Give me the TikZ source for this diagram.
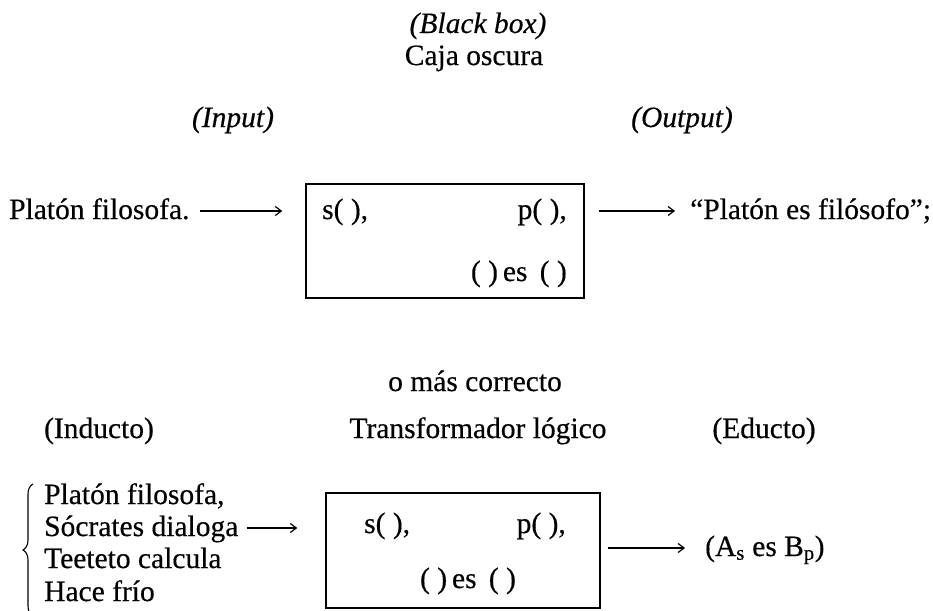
\documentclass[tikz,border=0pt]{standalone}
\usepackage{fontspec}
\setmainfont{Liberation Serif}[FakeBold=0.4]
\usetikzlibrary{decorations.pathreplacing,arrows.meta}
\begin{document}
\begin{tikzpicture}[x=1pt,y=-1pt,
  txt/.style={inner sep=0pt, font=\fontsize{29.5}{34}\selectfont},
  bx/.style={draw, line width=1.4pt, inner sep=0pt},
  arr/.style={line width=1.2pt, -{Straight Barb[length=6pt,width=9pt]}}]
\useasboundingbox (0,0) rectangle (933,610);

% --- top part ---
\node[txt, anchor=base] (bb) at (478,33) {\itshape (Black box)};
\node[txt, anchor=base] (co) at (474,65) {Caja oscura};
\node[txt, anchor=base] (inp) at (233,127) {\itshape (Input)};
\node[txt, anchor=base] (outp) at (682,127) {\itshape (Output)};

\node[bx, minimum width=278pt, minimum height=114pt] (box1) at (445,241) {};
\node[txt, anchor=base west] (s1) at (322,219) {s( ),};
\node[txt, anchor=base east] (p1) at (567,219) {p( ),};
\node[txt, anchor=base east] (e1) at (567,281) {( )\,es\, ( )};

\node[txt, anchor=base west] (in1) at (9,219) {Platón filosofa.};
\node[txt, anchor=base west] (out1) at (690,219) {“Platón es filósofo”;};
\coordinate (a1s) at ([shift={(10,-8)}]in1.base east);
\coordinate (a2s) at ([shift={(14,-8)}]box1.east |- in1.base);
\draw[arr, shorten >=23pt] (a1s) -- (a1s -| box1.west);
\draw[arr, shorten >=15pt] (a2s) -- (a2s -| out1.west);

% --- bottom part ---
\node[txt, anchor=base] (mc) at (475,391) {o más correcto};
\node[txt, anchor=base] (ind) at (99,438) {(Inducto)};
\node[txt, anchor=base] (tl) at (478,438) {Transformador lógico};
\node[txt, anchor=base] (edu) at (764,438) {(Educto)};

\node[txt, anchor=base west] (l1) at (44,504) {Platón filosofa,};
\node[txt, anchor=base west] (l2) at (44,536) {Sócrates dialoga};
\node[txt, anchor=base west] (l3) at (44,568) {Teeteto calcula};
\node[txt, anchor=base west] (l4) at (44,601) {Hace frío};
\draw[line width=1.1pt, decoration={brace, amplitude=10pt}, decorate]
  (33,616) -- (33,484);

\node[bx, minimum width=274pt, minimum height=115pt] (box2) at (463,550.5) {};
\node[txt, anchor=base west] (s2) at (364,533) {s( ),};
\node[txt, anchor=base east] (p2) at (566,533) {p( ),};
\node[txt, anchor=base] (e2) at (468,588) {( )\,es\, ( )};
\node[txt, anchor=base west] (out2) at (705,556) {(A\textsubscript{s} es B\textsubscript{p})};

\coordinate (b1s) at ([shift={(8,-8)}]l2.base east);
\coordinate (b2s) at ([xshift=7pt]box2.east |- 0,548);
\draw[arr, shorten >=28pt] (b1s) -- (b1s -| box2.west);
\draw[arr, shorten >=20pt] (b2s) -- (b2s -| out2.west);
\end{tikzpicture}
\end{document}
